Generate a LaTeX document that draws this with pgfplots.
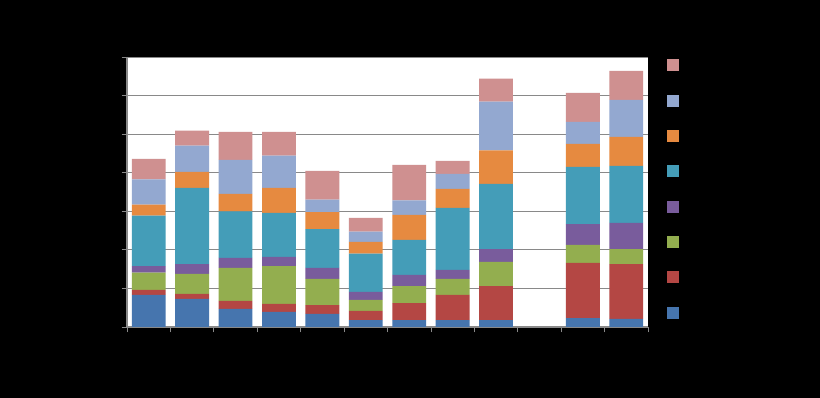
\documentclass[border=0pt]{standalone}
\usepackage{pgfplots}
\pgfplotsset{compat=1.18}
\definecolor{sBlue}{HTML}{4675AE}
\definecolor{sRed}{HTML}{B44744}
\definecolor{sGreen}{HTML}{93AE4F}
\definecolor{sPurple}{HTML}{795C9C}
\definecolor{sTeal}{HTML}{449DB8}
\definecolor{sOrange}{HTML}{E68A40}
\definecolor{sLBlue}{HTML}{93A8D0}
\definecolor{sPink}{HTML}{CF9090}
\definecolor{gridgray}{HTML}{898989}
\begin{document}
\begin{tikzpicture}[x=0.75pt,y=0.75pt]
\useasboundingbox (0,0) rectangle (820,398);
\fill[black] (0,0) rectangle (820,398);
\begin{axis}[
  at={(95.25pt,53.25pt)}, anchor=south west,
  width=390.75pt, height=202.5pt, scale only axis,
  axis background/.style={fill=white},
  ybar stacked, bar width=0.78,
  xmin=-0.5, xmax=11.5, ymin=0, ymax=7,
  xtick={-0.5,0.5,...,11.5}, xticklabels={},
  ytick={0,1,...,7}, yticklabels={},
  tick align=outside, major tick length=4pt,
  tick style={draw=gridgray, line width=0.6pt},
  ymajorgrids, grid style={draw=gridgray, line width=0.6pt},
  axis x line*=bottom, axis y line*=left,
  axis line style={draw=gridgray, line width=0.8pt, -},
  every axis plot/.append style={draw=none},
  legend style={at={(1,1.0)}, anchor=north west, draw=none, fill=black,
    row sep=17.5pt, inner xsep=14pt, inner ysep=1.5pt},
  legend image code/.code={\fill[#1] (0pt,-4.5pt) rectangle (9pt,4.5pt);},
  reverse legend,
]
\addplot[fill=sBlue] coordinates {(0,0.83) (1,0.73) (2,0.47) (3,0.39) (4,0.34) (5,0.18) (6,0.18) (7,0.18) (8,0.18) (10,0.23) (11,0.21)};
\addlegendentry{}
\addplot[fill=sRed] coordinates {(0,0.13) (1,0.13) (2,0.21) (3,0.21) (4,0.23) (5,0.24) (6,0.44) (7,0.65) (8,0.88) (10,1.43) (11,1.42)};
\addlegendentry{}
\addplot[fill=sGreen] coordinates {(0,0.45) (1,0.52) (2,0.85) (3,0.98) (4,0.68) (5,0.28) (6,0.44) (7,0.42) (8,0.63) (10,0.47) (11,0.39)};
\addlegendentry{}
\addplot[fill=sPurple] coordinates {(0,0.17) (1,0.25) (2,0.26) (3,0.24) (4,0.28) (5,0.21) (6,0.29) (7,0.23) (8,0.33) (10,0.54) (11,0.68)};
\addlegendentry{}
\addplot[fill=sTeal] coordinates {(0,1.31) (1,1.98) (2,1.21) (3,1.14) (4,1.01) (5,0.99) (6,0.91) (7,1.61) (8,1.69) (10,1.48) (11,1.48)};
\addlegendentry{}
\addplot[fill=sOrange] coordinates {(0,0.28) (1,0.41) (2,0.45) (3,0.65) (4,0.44) (5,0.31) (6,0.65) (7,0.49) (8,0.87) (10,0.60) (11,0.75)};
\addlegendentry{}
\addplot[fill=sLBlue] coordinates {(0,0.66) (1,0.68) (2,0.88) (3,0.83) (4,0.32) (5,0.26) (6,0.37) (7,0.39) (8,1.26) (10,0.57) (11,0.96)};
\addlegendentry{}
\addplot[fill=sPink] coordinates {(0,0.53) (1,0.39) (2,0.73) (3,0.62) (4,0.75) (5,0.36) (6,0.92) (7,0.34) (8,0.60) (10,0.75) (11,0.75)};
\addlegendentry{}
\end{axis}
\end{tikzpicture}
\end{document}
